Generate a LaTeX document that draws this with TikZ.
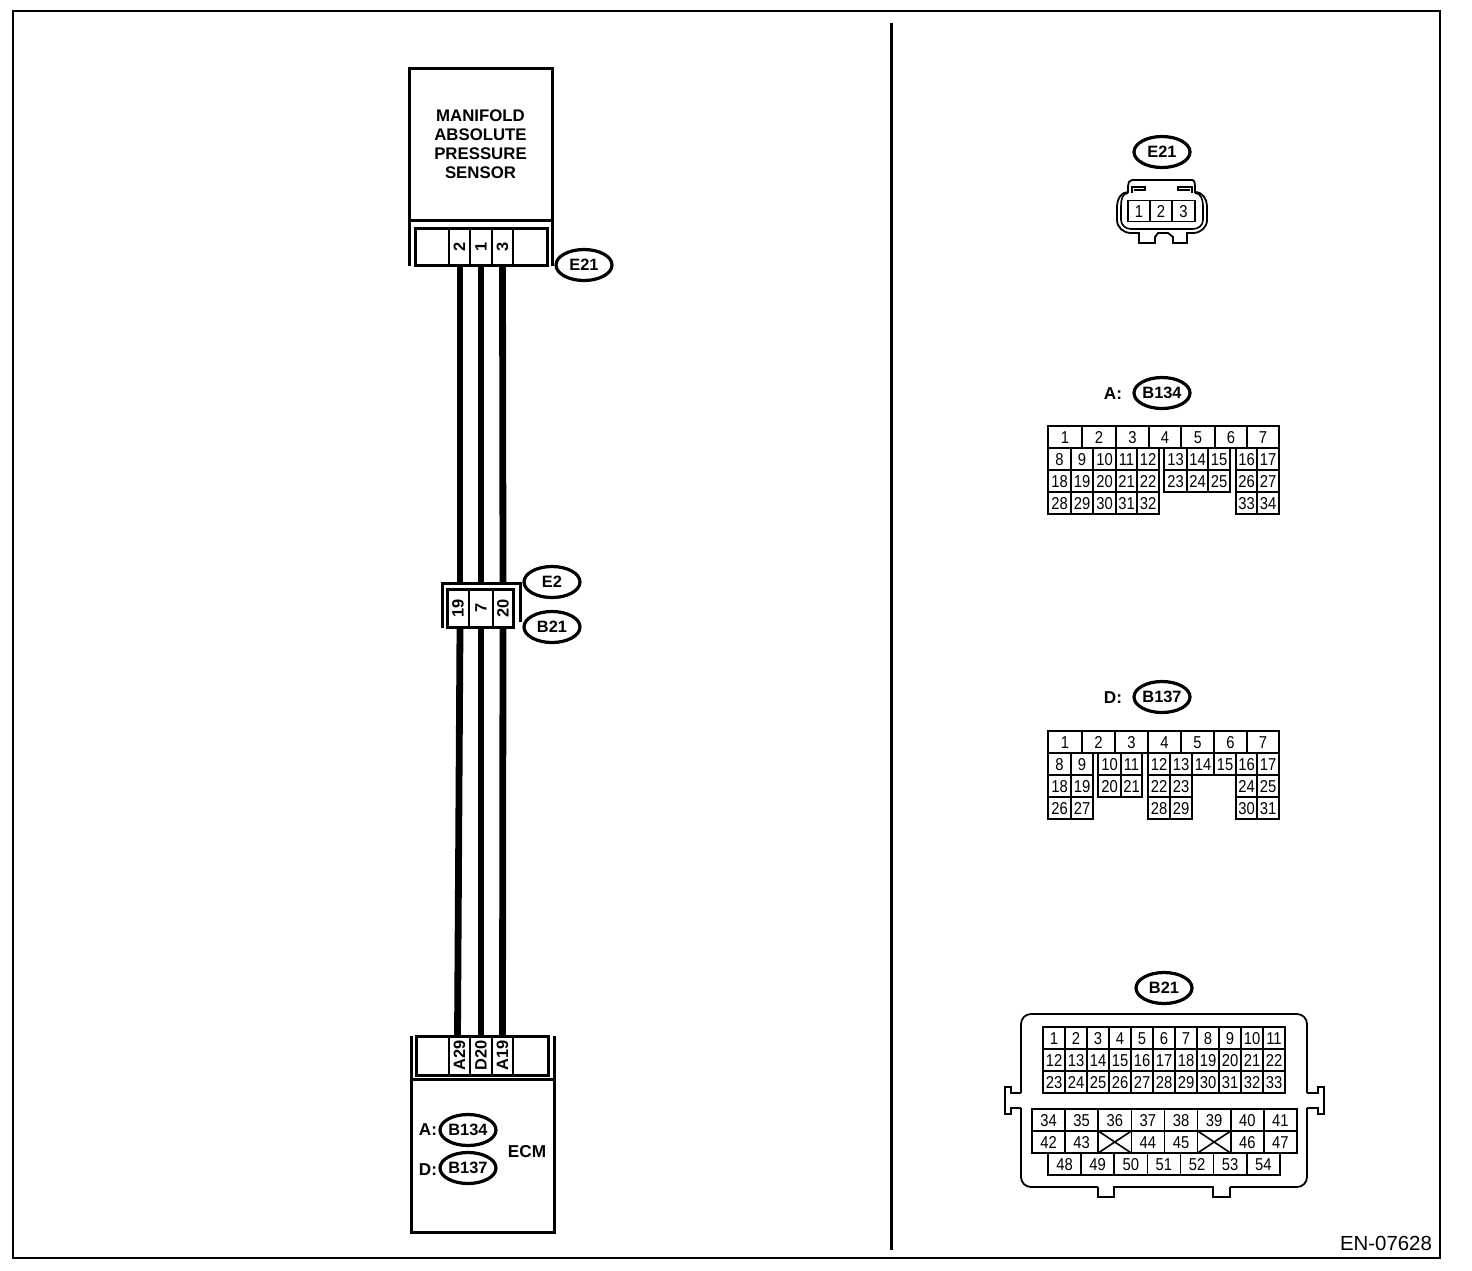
\documentclass[tikz,border=0pt]{standalone}
\usepackage{fontspec}
\setmainfont{Liberation Sans}
\newfontfamily\pinfont[FakeStretch=0.86]{Liberation Sans}
\usetikzlibrary{shapes.geometric}

\begin{document}
\begin{tikzpicture}[x=0.5pt,y=-0.5pt,
        frameline/.style={line width=1pt},
        wire/.style={line width=3.4pt},
        unitbox/.style={draw,line width=1.5pt,outer sep=0pt,inner sep=0pt,font=\fontsize{8.4}{9.5}\selectfont\bfseries,align=center},
        pincell/.style={draw,line width=0.8pt,outer sep=0pt,inner sep=0pt,text height=6pt,text depth=0pt,font=\pinfont\fontsize{8.6}{9}\selectfont},
        wirecell/.style={draw,line width=0.8pt,outer sep=0pt,inner sep=0pt,font=\fontsize{8.2}{9}\selectfont\bfseries},
        tag/.style={draw,ellipse,line width=1.6pt,minimum width=28pt,minimum height=15.5pt,inner sep=0pt,font=\fontsize{8.2}{9}\selectfont\bfseries},
        tagtext/.style={inner sep=0pt,font=\fontsize{8.6}{9}\selectfont\bfseries}]

    \useasboundingbox (0,0) rectangle (1472,1270);
    \node[draw,frameline,outer sep=0pt,minimum width=713.5pt,minimum height=623.5pt] (frame) at (726.5,634.5) {};
    \coordinate (divtop) at (891,23);
    \coordinate (divbot) at (891,1250);
    \draw[line width=1.5pt] (divtop) -- (divbot);

    % sensor side
    \node[unitbox,minimum width=71.5pt,minimum height=76pt] (sensor) at (480.5,144.5)
        {MANIFOLD\\ABSOLUTE\\PRESSURE\\SENSOR};
    \draw[line width=1.5pt] (sensor.south west) -- ++(0,45);
    \draw[line width=1.5pt] (sensor.south east) -- ++(0,45);
    \node[unitbox,minimum width=66pt,minimum height=18.5pt] (sensorcon) at (481,246.5) {};
    \node[wirecell,minimum width=10.5pt,minimum height=18.5pt] (sp2) at (459.5,246.5) {\rotatebox{90}{2}};
    \node[wirecell,minimum width=11pt,minimum height=18.5pt] (sp1) at (481,246.5) {\rotatebox{90}{1}};
    \node[wirecell,minimum width=10.5pt,minimum height=18.5pt] (sp3) at (502.5,246.5) {\rotatebox{90}{3}};
    \node[tag] (tage21) at (584,265) {E21};

    % joint
    \coordinate (jointtop) at (480,583);
    \draw[line width=1.5pt] (442,628) -- (442,583) -- (520,583) -- (520,622);
    \node[unitbox,minimum width=33pt,minimum height=19pt] (jointcon) at (480,608) {};
    \node[wirecell,minimum width=11pt,minimum height=19pt] (jp19) at (458,608) {\rotatebox{90}{19}};
    \node[wirecell,minimum width=12pt,minimum height=19pt] (jp7) at (481,608) {\rotatebox{90}{7}};
    \node[wirecell,minimum width=10pt,minimum height=19pt] (jp20) at (503,608) {\rotatebox{90}{20}};
    \node[tag] (tage2) at (552,582) {E2};
    \node[tag] (tagb21) at (552,627) {B21};

    % ecm side
    \node[unitbox,minimum width=71.5pt,minimum height=76.5pt] (ecm) at (482.5,1155.5) {};
    \draw[line width=1.5pt] (ecm.north west) -- ++(0,-43);
    \draw[line width=1.5pt] (ecm.north east) -- ++(0,-43);
    \node[unitbox,minimum width=66pt,minimum height=19.5pt] (ecmcon) at (482,1055.5) {};
    \node[wirecell,minimum width=10.5pt,minimum height=19.5pt] (ep29) at (459.5,1055.5) {\rotatebox{90}{A29}};
    \node[wirecell,minimum width=11pt,minimum height=19.5pt] (ep20) at (481,1055.5) {\rotatebox{90}{D20}};
    \node[wirecell,minimum width=10.5pt,minimum height=19.5pt] (ep19) at (502.5,1055.5) {\rotatebox{90}{A19}};
    \node[tag] (tagb134) at (468,1130) {B134};
    \node[tag] (tagb137) at (468,1168) {B137};
    \node[tagtext] (ecma) at (428,1130) {A:};
    \node[tagtext] (ecmd) at (428,1170) {D:};
    \node[tagtext] (ecmname) at (527,1152) {ECM};

    \draw[wire] ([xshift=0.25pt]sp2.south) -- ([xshift=1pt]jp19.north |- jointtop);
    \draw[wire] (sp1.south) -- (jp7.north |- jointtop);
    \draw[wire] (sp3.south) -- (jp20.north |- jointtop);
    \draw[wire] ([xshift=1pt]jp19.south) -- ([xshift=-1pt]ep29.north);
    \draw[wire] (jp7.south) -- (ep20.north);
    \draw[wire] (jp20.south) -- (ep19.north);

    % E21 connector
    \node[tag] (viewe21) at (1162,152) {E21};
    \draw[line width=0.9pt] (1132,180) -- (1192,180) to[out=0,in=90] (1195,186) -- (1195,192)
        to[out=0,in=90] (1207,206) -- (1207,220) to[out=270,in=0] (1193,233) -- (1187,233)
        -- (1187,243) -- (1173,243) -- (1173,237) -- (1168,233) -- (1158,233) -- (1155,237)
        -- (1155,243) -- (1139,243) -- (1139,233) -- (1131,233) to[out=180,in=270] (1117,220)
        -- (1117,206) to[out=90,in=180] (1128,192) -- (1128,186) to[out=90,in=180] cycle;
    \draw[line width=0.8pt] (1128,193) to[out=180,in=90] (1121,206) -- (1121,220)
        to[out=270,in=180] (1131,229) -- (1193,229) to[out=0,in=270] (1203,220) -- (1203,206)
        to[out=90,in=0] (1195,193);
    \draw[line width=0.8pt] (1132,193) -- (1132,187) -- (1145,187) -- (1145,190) -- (1134,190);
    \draw[line width=0.8pt] (1192,193) -- (1192,187) -- (1178,187) -- (1178,190) -- (1190,190);
    \foreach \lab/\xa/\xb in {1/1128/1150,2/1150/1172,3/1172/1195}
        \node[pincell,minimum width={(\xb-\xa)*0.5pt},minimum height=10.5pt] (e\lab) at ({(\xa+\xb)/2},211) {\lab};

    % B134 connector
    \node[tag] (viewb134) at (1162,393) {B134};
    \node[tagtext] (labela) at (1113,394) {A:};
    \foreach \lab/\xa/\xb in {1/1048/1082,2/1082/1116,3/1116/1149,4/1149/1181,5/1181/1215,6/1215/1247,7/1247/1279}
        \node[pincell,minimum width={(\xb-\xa)*0.5pt},minimum height=11pt] (a\lab) at ({(\xa+\xb)/2},437) {\lab};
    \foreach \lab/\xa/\xb in {8/1048/1071,9/1071/1093,10/1093/1116,11/1116/1137,12/1137/1159,13/1164/1187,14/1187/1208,15/1208/1230,16/1236/1257,17/1257/1279}
        \node[pincell,minimum width={(\xb-\xa)*0.5pt},minimum height=11pt] (a\lab) at ({(\xa+\xb)/2},459) {\lab};
    \foreach \lab/\xa/\xb in {18/1048/1071,19/1071/1093,20/1093/1116,21/1116/1137,22/1137/1159,23/1164/1187,24/1187/1208,25/1208/1230,26/1236/1257,27/1257/1279}
        \node[pincell,minimum width={(\xb-\xa)*0.5pt},minimum height=11pt] (a\lab) at ({(\xa+\xb)/2},481) {\lab};
    \foreach \lab/\xa/\xb in {28/1048/1071,29/1071/1093,30/1093/1116,31/1116/1137,32/1137/1159,33/1236/1257,34/1257/1279}
        \node[pincell,minimum width={(\xb-\xa)*0.5pt},minimum height=11pt] (a\lab) at ({(\xa+\xb)/2},503) {\lab};

    % B137 connector
    \node[tag] (viewb137) at (1162,697) {B137};
    \node[tagtext] (labeld) at (1113,698) {D:};
    \foreach \lab/\xa/\xb in {1/1048/1082,2/1082/1115,3/1115/1148,4/1148/1181,5/1181/1214,6/1214/1247,7/1247/1279}
        \node[pincell,minimum width={(\xb-\xa)*0.5pt},minimum height=11pt] (d\lab) at ({(\xa+\xb)/2},742) {\lab};
    \foreach \lab/\xa/\xb in {8/1048/1071,9/1071/1093,10/1098/1121,11/1121/1142,12/1148/1170,13/1170/1192,14/1192/1214,15/1214/1236,16/1236/1257,17/1257/1279}
        \node[pincell,minimum width={(\xb-\xa)*0.5pt},minimum height=11pt] (d\lab) at ({(\xa+\xb)/2},764) {\lab};
    \foreach \lab/\xa/\xb in {18/1048/1071,19/1071/1093,20/1098/1121,21/1121/1142,22/1148/1170,23/1170/1192,24/1236/1257,25/1257/1279}
        \node[pincell,minimum width={(\xb-\xa)*0.5pt},minimum height=11pt] (d\lab) at ({(\xa+\xb)/2},786) {\lab};
    \foreach \lab/\xa/\xb in {26/1048/1071,27/1071/1093,28/1148/1170,29/1170/1192,30/1236/1257,31/1257/1279}
        \node[pincell,minimum width={(\xb-\xa)*0.5pt},minimum height=11pt] (d\lab) at ({(\xa+\xb)/2},808) {\lab};

    % B21 connector
    \node[tag] (viewb21) at (1164,988) {B21};
    \draw[line width=0.9pt,rounded corners=5pt] (1021,1093) -- (1021,1014) -- (1307,1014) -- (1307,1093);
    \draw[line width=0.9pt,rounded corners=5pt] (1021,1108) -- (1021,1187) -- (1098,1187);
    \draw[line width=0.9pt,rounded corners=5pt] (1230,1187) -- (1307,1187) -- (1307,1108);
    \draw[line width=0.9pt] (1098,1187) -- (1098,1197) -- (1114,1197) -- (1114,1187) -- (1213,1187) -- (1213,1197) -- (1230,1197) -- (1230,1187);
    \draw[line width=0.9pt] (1021,1093) -- (1011,1093) -- (1011,1087) -- (1005,1087) -- (1005,1114) -- (1011,1114) -- (1011,1108) -- (1021,1108);
    \draw[line width=0.9pt] (1307,1093) -- (1318,1093) -- (1318,1087) -- (1324,1087) -- (1324,1114) -- (1318,1114) -- (1318,1108) -- (1307,1108);
    \foreach \lab [count=\i from 0] in {1,...,11}
        \node[pincell,minimum width=11pt,minimum height=11pt] (b\lab) at ({1054+22*\i},1038) {\lab};
    \foreach \lab [count=\i from 0] in {12,...,22}
        \node[pincell,minimum width=11pt,minimum height=11pt] (b\lab) at ({1054+22*\i},1060) {\lab};
    \foreach \lab [count=\i from 0] in {23,...,33}
        \node[pincell,minimum width=11pt,minimum height=11pt] (b\lab) at ({1054+22*\i},1082) {\lab};
    \foreach \lab [count=\i from 0] in {34,...,41}
        \node[pincell,minimum width=16.56pt,minimum height=11pt] (b\lab) at ({1048.5+33.125*\i},1120) {\lab};
    \foreach \lab/\i in {42/0,43/1,44/3,45/4,46/6,47/7}
        \node[pincell,minimum width=16.56pt,minimum height=11pt] (b\lab) at ({1048.5+33.125*\i},1142) {\lab};
    \foreach \lab/\i in {1/2,2/5}{
        \node[pincell,minimum width=16.56pt,minimum height=11pt] (bx\lab) at ({1048.5+33.125*\i},1142) {};
        \draw[line width=0.8pt] (bx\lab.north west) -- (bx\lab.south east);
        \draw[line width=0.8pt] (bx\lab.south west) -- (bx\lab.north east);
    }
    \foreach \lab [count=\i from 0] in {48,...,54}
        \node[pincell,minimum width=16.57pt,minimum height=11pt] (b\lab) at ({1064.5+33.14*\i},1164) {\lab};

    \node[inner sep=0pt,font=\fontsize{10.2}{12}\selectfont] (partno) at (1386,1243) {EN-07628};
\end{tikzpicture}
\end{document}
